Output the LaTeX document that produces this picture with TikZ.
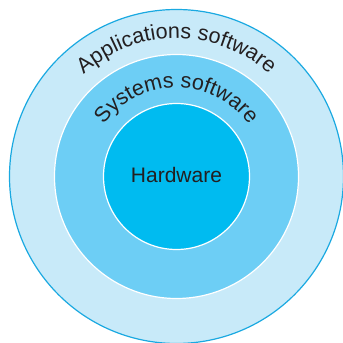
\documentclass[tikz,border=0pt]{standalone}
\usepackage{fontspec}
\setsansfont{Liberation Sans}
\usetikzlibrary{decorations.text}

\definecolor{ringapp}{HTML}{C8EAF9}
\definecolor{ringsys}{HTML}{6DCEF5}
\definecolor{ringhw}{HTML}{00BBF0}
\definecolor{rimblue}{HTML}{1AA9E1}
\definecolor{labelgray}{HTML}{231F20}

\tikzset{
	ring/.style={draw=white, line width=1.2pt},
	bendlabel/.style={decorate, decoration={text along path, text align=center,
		text color=labelgray, text={|\sffamily\fontsize{21.5}{21.5}\selectfont|#1}}}
}

\begin{document}
\begin{tikzpicture}[x=1pt, y=1pt]
	\useasboundingbox (0,0) rectangle (343,343);
	\coordinate (c) at (176.5,166.5);

	% rings, from outside in
	\draw[fill=ringapp, draw=rimblue, line width=1.2pt] (c) circle [radius=167];
	\draw[ring, fill=ringsys] (c) circle [radius=122];
	\draw[ring, fill=ringhw] (c) circle [radius=73];

	% centre label
	\node[font=\sffamily\fontsize{21}{21}\selectfont, text=labelgray, anchor=base] (hw)
		at (176.5,160.3) {Hardware};

	% curved labels
	\path[bendlabel={Applications software}] (38.5,166.5) arc [start angle=180, end angle=0, radius=138];
	\path[bendlabel={Systems software}] (87.5,166.5) arc [start angle=180, end angle=0, radius=89];
\end{tikzpicture}
\end{document}
